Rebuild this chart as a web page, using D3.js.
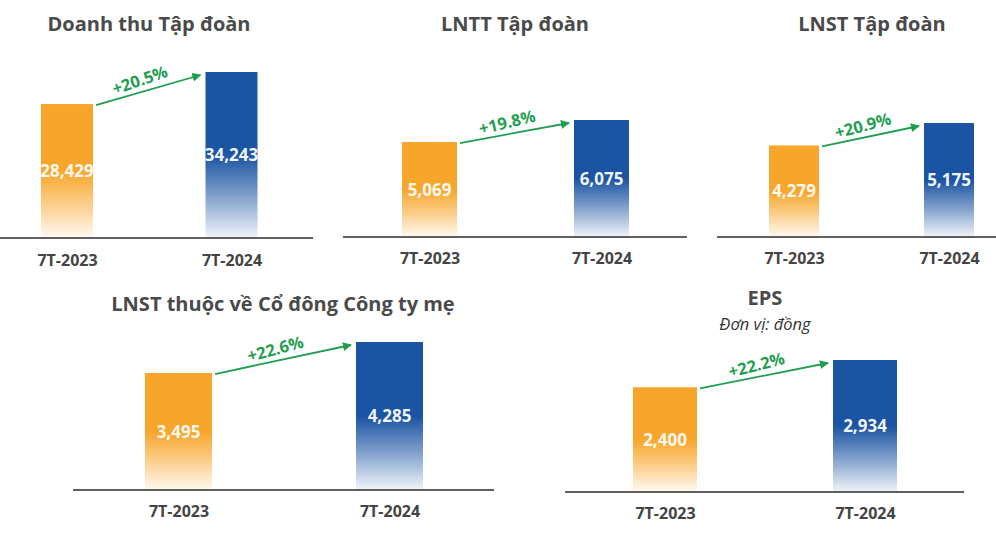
<!DOCTYPE html>
<html>
<head>
<meta charset="utf-8">
<script src="https://cdn.jsdelivr.net/npm/d3@7"></script>
<style>
  html, body { margin: 0; padding: 0; background: #fff; }
  svg { display: block; font-family: "Open Sans", "DejaVu Sans", sans-serif; }
</style>
</head>
<body>
<svg id="chart" width="996" height="544"></svg>
<script>
// ---- Data ----
const categories = ["7T-2023", "7T-2024"];
const titles = ["Doanh thu Tập đoàn", "LNTT Tập đoàn", "LNST Tập đoàn", "LNST thuộc về Cổ đông Công ty mẹ", "EPS"];
const subtitles = ["", "", "", "", "Đơn vị: đồng"];
const values2023 = [28429, 5069, 4279, 3495, 2400];
const values2024 = [34243, 6075, 5175, 4285, 2934];
const growthLabels = ["+20.5%", "+19.8%", "+20.9%", "+22.6%", "+22.2%"];

// ---- Layout (positions only) ----
const layout = [
  { axis: [0, 313],   base: 238, centers: [67, 231.5],  bw: 52, maxH: 166, tx: 149, ty: 31, ly: 266 },
  { axis: [343, 687], base: 237, centers: [429.5, 601.5], bw: 55, maxH: 117, tx: 515, ty: 31, ly: 264 },
  { axis: [717, 996], base: 237, centers: [794, 949],   bw: 50, maxH: 114, tx: 872, ty: 31, ly: 264 },
  { axis: [73, 494],  base: 490, centers: [178.5, 389.5], bw: 67, maxH: 148, tx: 283, ty: 311, ly: 517 },
  { axis: [565, 964], base: 492, centers: [665, 865],   bw: 64, maxH: 132, tx: 765, ty: 305, ly: 519 }
];
const domainFloor = 0.12; // bars' value axis does not start exactly at zero

const barColors = ["#f8a62b", "#1b54a2"];
const green = "#1f9e50";

const svg = d3.select("#chart");
const defs = svg.append("defs");

barColors.forEach((c, i) => {
  const g = defs.append("linearGradient")
    .attr("id", "grad" + i)
    .attr("x1", 0).attr("y1", 0).attr("x2", 0).attr("y2", 1);
  [[0, 1], [0.5, 1], [0.75, 0.55], [1, 0.06]].forEach(([o, op]) => {
    g.append("stop").attr("offset", o).attr("stop-color", c).attr("stop-opacity", op);
  });
});

defs.append("marker")
  .attr("id", "arrowHead")
  .attr("viewBox", "0 0 10 10")
  .attr("refX", 9).attr("refY", 5)
  .attr("markerWidth", 5).attr("markerHeight", 5)
  .attr("markerUnits", "strokeWidth")
  .attr("orient", "auto")
  .append("path")
  .attr("d", "M0,0 L10,5 L0,10 Z")
  .attr("fill", green);

titles.forEach((title, p) => {
  const L = layout[p];
  const vals = [values2023[p], values2024[p]];
  const g = svg.append("g");

  const x = d3.scalePoint().domain(categories).range(L.centers);
  const vmax = d3.max(vals);
  const y = d3.scaleLinear()
    .domain([vmax * domainFloor, vmax])
    .range([L.base, L.base - L.maxH]);

  // title
  g.append("text")
    .attr("x", L.tx).attr("y", L.ty)
    .attr("text-anchor", "middle")
    .attr("font-size", 20).attr("font-weight", 700)
    .attr("fill", "#4a4a4a")
    .text(title);
  if (subtitles[p]) {
    g.append("text")
      .attr("x", L.tx).attr("y", L.ty + 25)
      .attr("text-anchor", "middle")
      .attr("font-size", 16.5).attr("font-style", "italic")
      .attr("fill", "#333")
      .text(subtitles[p]);
  }

  // bars
  g.selectAll("rect.bar").data(vals).enter().append("rect")
    .attr("class", "bar")
    .attr("x", (d, i) => x(categories[i]) - L.bw / 2)
    .attr("y", d => y(d))
    .attr("width", L.bw)
    .attr("height", d => L.base - y(d))
    .attr("fill", (d, i) => `url(#grad${i})`);

  // value labels
  g.selectAll("text.val").data(vals).enter().append("text")
    .attr("class", "val")
    .attr("x", (d, i) => x(categories[i]))
    .attr("y", d => (y(d) + L.base) / 2 + 6)
    .attr("text-anchor", "middle")
    .attr("font-size", 17).attr("font-weight", 700)
    .attr("fill", "#fff")
    .attr("fill-opacity", 0.95)
    .text(d => d3.format(",")(d));

  // baseline
  g.append("line")
    .attr("x1", L.axis[0]).attr("x2", L.axis[1])
    .attr("y1", L.base).attr("y2", L.base)
    .attr("stroke", "#2b2b2b").attr("stroke-width", 1.6);

  // category axis
  const ax = g.append("g")
    .attr("transform", `translate(0,${L.ly - 15})`)
    .call(d3.axisBottom(x).tickSize(0).tickPadding(0));
  ax.select(".domain").remove();
  ax.selectAll("text")
    .attr("dy", 0).attr("y", 15)
    .attr("font-family", "'Open Sans', sans-serif")
    .attr("font-size", 16).attr("font-weight", 700)
    .attr("fill", "#444");

  // growth arrow
  const x1 = x(categories[0]) + L.bw / 2 + 3, y1 = y(vals[0]) + 1;
  const x2 = x(categories[1]) - L.bw / 2 - 5, y2 = y(vals[1]) + 3;
  g.append("line")
    .attr("x1", x1).attr("y1", y1).attr("x2", x2).attr("y2", y2)
    .attr("stroke", green).attr("stroke-width", 1.8)
    .attr("marker-end", "url(#arrowHead)");
  const ang = Math.atan2(y2 - y1, x2 - x1);
  const mx = (x1 + x2) / 2, my = (y1 + y2) / 2;
  const ux = Math.cos(ang), uy = Math.sin(ang);
  const nx = Math.sin(ang), ny = -Math.cos(ang);
  const tx = mx - 5 * ux + 6 * nx, ty = my - 5 * uy + 6 * ny;
  g.append("text")
    .attr("transform", `translate(${tx},${ty}) rotate(${ang * 180 / Math.PI - 3})`)
    .attr("text-anchor", "middle")
    .attr("font-size", 16.5).attr("font-weight", 700)
    .attr("fill", green)
    .text(growthLabels[p]);
});
</script>
</body>
</html>
